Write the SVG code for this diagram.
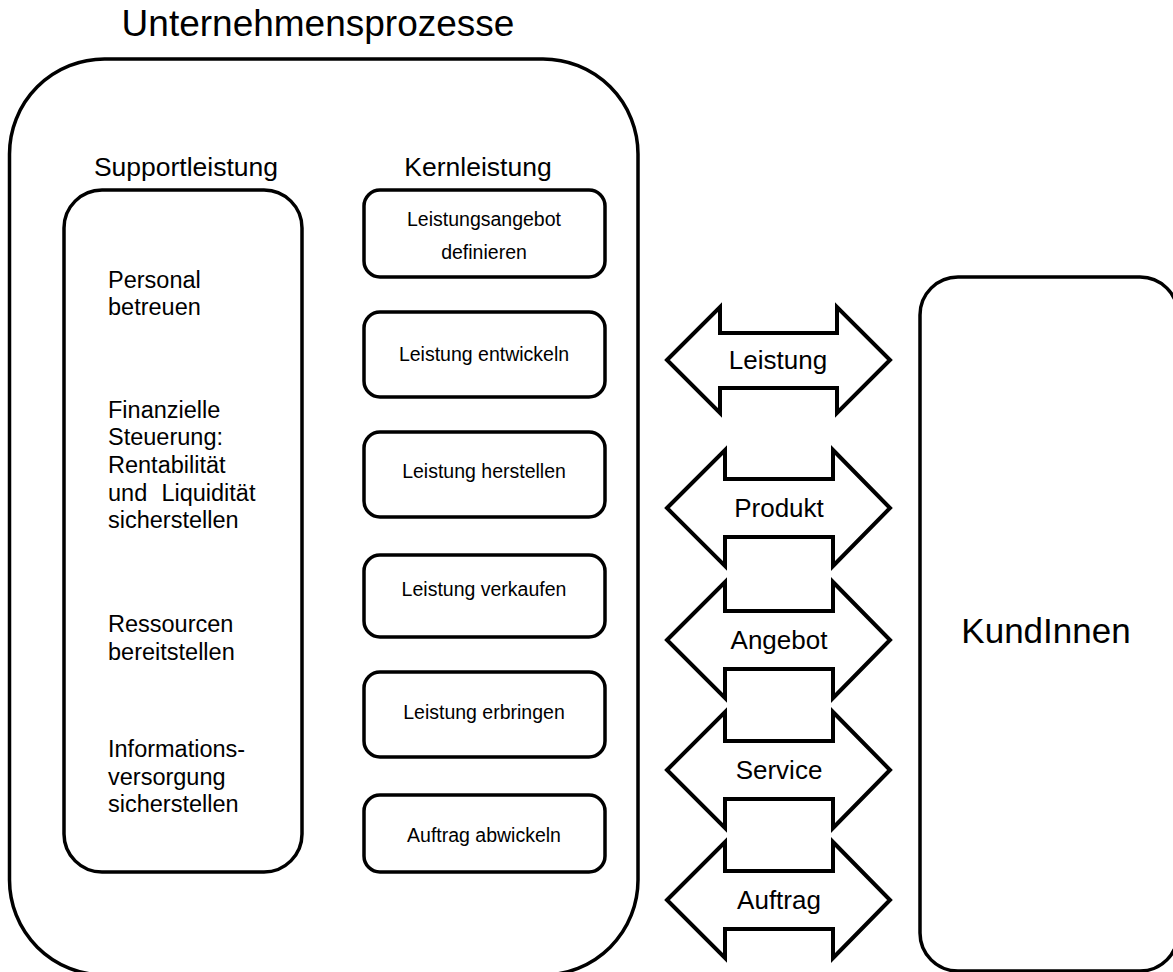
<svg xmlns="http://www.w3.org/2000/svg" width="1173" height="972" viewBox="0 0 1173 972">
  <style>
    .box { fill: #fff; stroke: #000; stroke-width: 3.5; }
    .arrow { fill: #fff; stroke: #000; stroke-width: 4; stroke-linejoin: miter; }
    text { font-family: "Liberation Sans", Arial, sans-serif; fill: #000; }
    .title { font-size: 37px; }
    .head { font-size: 26.5px; }
    .lbl { font-size: 23.5px; }
    .kern { font-size: 19.5px; }
    .arr { font-size: 26px; }
    .kunden { font-size: 35px; }
  </style>
  <rect width="1173" height="972" fill="#fff"/>

  <g id="unternehmensprozesse">
    <rect class="box" x="9.5" y="59" width="628.5" height="916" rx="95" ry="95"/>
    <text class="title" x="318" y="36" text-anchor="middle">Unternehmensprozesse</text>
  </g>

  <g id="supportleistung">
    <text class="head" x="186" y="176" text-anchor="middle">Supportleistung</text>
    <rect class="box" x="64" y="190" width="238" height="682" rx="38" ry="38"/>
    <text class="lbl" x="108">
      <tspan x="108" y="288">Personal</tspan>
      <tspan x="108" y="315">betreuen</tspan>
    </text>
    <text class="lbl" x="108">
      <tspan x="108" y="418">Finanzielle</tspan>
      <tspan x="108" y="445">Steuerung:</tspan>
      <tspan x="108" y="473">Rentabilität</tspan>
      <tspan x="108" y="501">und</tspan>
      <tspan x="262" y="501" text-anchor="end">Liquidität</tspan>
      <tspan x="108" y="528">sicherstellen</tspan>
    </text>
    <text class="lbl" x="108">
      <tspan x="108" y="632">Ressourcen</tspan>
      <tspan x="108" y="660">bereitstellen</tspan>
    </text>
    <text class="lbl" x="108">
      <tspan x="108" y="757">Informations-</tspan>
      <tspan x="108" y="785">versorgung</tspan>
      <tspan x="108" y="812">sicherstellen</tspan>
    </text>
  </g>

  <g id="kernleistung">
    <text class="head" x="478" y="176" text-anchor="middle">Kernleistung</text>
  </g>
  <g id="k1">
    <rect class="box" x="364" y="190" width="241" height="87" rx="16" ry="16"/>
    <text class="kern" x="484" y="226" text-anchor="middle">Leistungsangebot</text>
    <text class="kern" x="484" y="259" text-anchor="middle">definieren</text>
  </g>
  <g id="k2">
    <rect class="box" x="364" y="312" width="241" height="85" rx="16" ry="16"/>
    <text class="kern" x="484" y="361" text-anchor="middle">Leistung entwickeln</text>
  </g>
  <g id="k3">
    <rect class="box" x="364" y="432" width="241" height="85" rx="16" ry="16"/>
    <text class="kern" x="484" y="478" text-anchor="middle">Leistung herstellen</text>
  </g>
  <g id="k4">
    <rect class="box" x="364" y="555" width="241" height="82" rx="16" ry="16"/>
    <text class="kern" x="484" y="596" text-anchor="middle">Leistung verkaufen</text>
  </g>
  <g id="k5">
    <rect class="box" x="364" y="672" width="241" height="85" rx="16" ry="16"/>
    <text class="kern" x="484" y="719" text-anchor="middle">Leistung erbringen</text>
  </g>
  <g id="k6">
    <rect class="box" x="364" y="795" width="241" height="77" rx="16" ry="16"/>
    <text class="kern" x="484" y="842" text-anchor="middle">Auftrag abwickeln</text>
  </g>

  <g id="kundinnen">
    <rect class="box" x="920" y="277" width="258" height="694" rx="38" ry="38"/>
    <text class="kunden" x="1046" y="643" text-anchor="middle">KundInnen</text>
  </g>

  <g id="connectors">
    <!-- double-headed block arrows between the process column and the customers -->
    <polygon class="arrow" points="667,360 720,307 720,333 837,333 837,307 890,360 837,413 837,388 720,388 720,413"/>
    <polygon class="arrow" points="667,508 725,450 725,479 833,479 833,450 890,508 833,566 833,537 725,537 725,566"/>
    <polygon class="arrow" points="667,640 725,582 725,611 833,611 833,582 890,640 833,698 833,669 725,669 725,698"/>
    <polygon class="arrow" points="667,770 725,712 725,741 833,741 833,712 890,770 833,828 833,799 725,799 725,828"/>
    <polygon class="arrow" points="667,900 725,842 725,871 833,871 833,842 890,900 833,958 833,929 725,929 725,958"/>
    <text class="arr" x="778" y="369" text-anchor="middle">Leistung</text>
    <text class="arr" x="779" y="517" text-anchor="middle">Produkt</text>
    <text class="arr" x="779" y="649" text-anchor="middle">Angebot</text>
    <text class="arr" x="779" y="779" text-anchor="middle">Service</text>
    <text class="arr" x="779" y="909" text-anchor="middle">Auftrag</text>
  </g>
</svg>
